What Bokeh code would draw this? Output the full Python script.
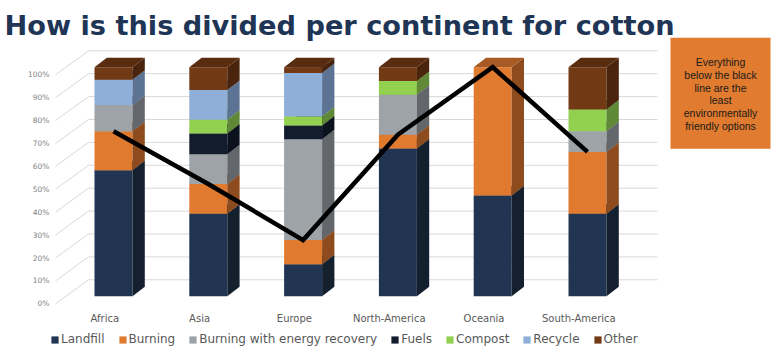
import numpy as np
from bokeh.plotting import figure
from bokeh.models import ColumnDataSource, Range1d, Legend, LegendItem, BoxAnnotation
from bokeh.core.properties import value
from bokeh.embed import file_html
from bokeh.resources import INLINE

# ---------------- data ----------------
categories = ["Africa", "Asia", "Europe", "North-America", "Oceania", "South-America"]
landfill = [55.0, 36.0, 14.0, 64.5, 44.0, 36.0]
burning = [17.0, 13.0, 10.5, 6.0, 56.0, 27.0]
burning_energy = [11.5, 13.0, 44.0, 17.5, 0.0, 9.0]
fuels = [0.0, 9.0, 6.0, 0.0, 0.0, 0.0]
compost = [0.0, 6.0, 4.0, 6.0, 0.0, 9.5]
recycle = [11.0, 13.0, 19.0, 0.0, 0.0, 0.0]
other = [5.5, 10.0, 2.5, 6.0, 0.0, 18.5]
series_names = ["Landfill", "Burning", "Burning with energy recovery", "Fuels",
                "Compost", "Recycle", "Other"]
line_pct = [72.0, 49.0, 24.5, 70.5, 100.0, 63.0]
y_ticks = [0, 10, 20, 30, 40, 50, 60, 70, 80, 90, 100]
y_tick_labels = ["0%", "10%", "20%", "30%", "40%", "50%", "60%", "70%", "80%", "90%", "100%"]
title_text = "How is this divided per continent for cotton"
note_text = "Everything\nbelow the black\nline are the\nleast\nenvironmentally\nfriendly options"

# ---------------- styles ----------------
front_colors = ["#213553", "#E07A2F", "#9EA3A8", "#131C2C", "#92D050", "#8DAFD8", "#723915"]
side_colors = ["#15202F", "#8E4C1E", "#63676C", "#0C121D", "#5F8936", "#5C7394", "#4A240C"]
top_colors = ["#1A2A40", "#A85A24", "#7A7E83", "#10182A", "#7AB040", "#7290B5", "#592C10"]

W_PX, H_PX = 775, 356
X0_PX, STEP_PX = 113.0, 94.8     # pixel of first category centre, pixels per category
Y0_PX, PCT_PX = 295.7, 2.29      # pixel of 0 % on bar fronts, pixels per percent


def xd(px):
    return (px - X0_PX) / STEP_PX


def yd(py):
    return (Y0_PX - py) / PCT_PX


BAR_W = 38.0 / STEP_PX
DEPTH_X = 12.3 / STEP_PX
DEPTH_Y = 9.5 / PCT_PX
BACK_OFF = yd(279.3)      # back-wall gridline offset (percent)
LABEL_OFF = yd(303.3)     # tick label offset (percent)

p = figure(width=W_PX, height=H_PX, x_range=Range1d(xd(0), xd(W_PX)),
           y_range=Range1d(yd(H_PX), yd(0)), output_backend="svg",
           toolbar_location=None, min_border=0, x_axis_location=None,
           y_axis_location=None)
p.grid.visible = False
p.outline_line_color = None
p.background_fill_color = "white"
p.border_fill_color = "white"

# ---------------- note box (underlay) ----------------
p.add_layout(BoxAnnotation(left=xd(670), right=xd(770), top=yd(37.3), bottom=yd(148.3),
                           fill_color="#E07B2F", fill_alpha=1.0, line_color=None,
                           level="underlay"))

# ---------------- gridlines (3D walls) ----------------
yt = np.array(y_ticks, dtype=float)
n = len(yt)
p.segment(x0=[xd(88)] * n, y0=yt + BACK_OFF, x1=[xd(657)] * n, y1=yt + BACK_OFF,
          line_color="#D9D9D9", line_width=1)
p.segment(x0=[xd(55)] * n, y0=yt + LABEL_OFF, x1=[xd(88)] * n, y1=yt + BACK_OFF,
          line_color="#D9D9D9", line_width=1)

p.text(x=[xd(49)] * n, y=yt + LABEL_OFF, text=y_tick_labels,
       text_font=value("DejaVu Sans"), text_font_size=value("7.5px"),
       text_color="#7F7F7F", text_align="right", text_baseline="middle")

idx = np.arange(len(categories), dtype=float)
p.text(x=idx + (-8.7 / STEP_PX), y=[yd(318)] * len(categories), text=categories,
       text_font=value("DejaVu Sans"), text_font_size=value("10px"),
       text_color="#595959", text_align="center", text_baseline="middle")

# ---------------- 3D stacked bars ----------------
series = [landfill, burning, burning_energy, fuels, compost, recycle, other]
bottom = np.zeros(len(categories))
legend_items = []
for name, vals, fc, sc, tc in zip(series_names, series, front_colors, side_colors, top_colors):
    v = np.array(vals, dtype=float)
    top = bottom + v
    m = v > 0
    xs = idx[m]
    b = bottom[m]
    t = top[m]
    src = ColumnDataSource(dict(x=xs, bottom=b, top=t))
    r = p.vbar(x="x", bottom="bottom", top="top", width=BAR_W, source=src,
               fill_color=fc, line_color=None)
    right = xs + BAR_W / 2
    left = xs - BAR_W / 2
    side_xs = [[r0, r0 + DEPTH_X, r0 + DEPTH_X, r0] for r0 in right]
    side_ys = [[b0, b0 + DEPTH_Y, t0 + DEPTH_Y, t0] for b0, t0 in zip(b, t)]
    p.patches(side_xs, side_ys, fill_color=sc, line_color=None)
    top_xs = [[l0, l0 + DEPTH_X, r0 + DEPTH_X, r0] for l0, r0 in zip(left, right)]
    top_ys = [[t0, t0 + DEPTH_Y, t0 + DEPTH_Y, t0] for t0 in t]
    p.patches(top_xs, top_ys, fill_color=tc, line_color=None)
    legend_items.append(LegendItem(label=name, renderers=[r]))
    bottom = top

# ---------------- black line ----------------
p.line(idx, line_pct, line_color="black", line_width=4.5, line_join="miter")

# ---------------- title ----------------
p.text(x=[xd(4)], y=[yd(25)], text=[title_text], text_font=value("DejaVu Sans"),
       text_font_style="bold", text_font_size=value("27.2px"), text_color="#1F3556",
       text_baseline="alphabetic", text_align="left")

# ---------------- note text ----------------
p.text(x=[xd(720)], y=[yd(93.5)], text=[note_text], text_font=value("Liberation Sans"),
       text_font_size=value("10.5px"), text_line_height=1.08, text_color="#1A1A1A",
       text_align="center", text_baseline="middle")

# ---------------- legend ----------------
legend = Legend(items=legend_items, orientation="horizontal", location=(50, 10),
                glyph_width=9, glyph_height=9, label_standoff=2, spacing=13,
                padding=0, margin=0, border_line_color=None, background_fill_alpha=0,
                label_text_font="DejaVu Sans", label_text_font_size="12px",
                label_text_color="#595959", label_height=12)
p.add_layout(legend)

open("out.html", "w").write(file_html(p, INLINE))
